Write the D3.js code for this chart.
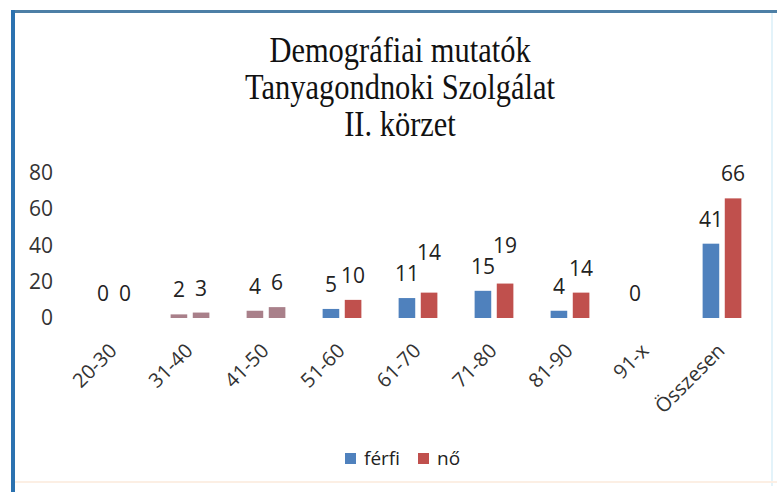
<!DOCTYPE html>
<html>
<head>
<meta charset="utf-8">
<script src="https://cdn.jsdelivr.net/npm/d3@7"></script>
<style>
  body { margin: 0; background: #fff; }
  svg { display: block; }
</style>
</head>
<body>
<script>
// Data
const categories = ["20-30", "31-40", "41-50", "51-60", "61-70", "71-80", "81-90", "91-x", "Összesen"];
const ferfi = [0, 2, 4, 5, 11, 15, 4, 0, 41];
const no = [0, 3, 6, 10, 14, 19, 14, null, 66];
const seriesNames = ["férfi", "nő"];
const yTicks = [0, 20, 40, 60, 80];
const titleLines = ["Demográfiai mutatók", "Tanyagondnoki Szolgálat", "II. körzet"];

// colours
const colors = { "férfi": "#4f81bd", "nő": "#c0504d" };
const fadedCats = ["31-40", "41-50"]; // these bars look washed out in the original
const fadedColor = "#a9808a";

const width = 777;
const height = 492;

const svg = d3.select("body").append("svg").attr("width", width).attr("height", height);

// frame (left and top edges of the chart box)
svg.append("line").attr("x1", 772).attr("x2", 772).attr("y1", 12).attr("y2", 486)
  .attr("stroke", "#e3f3fa").attr("stroke-width", 2);
svg.append("line").attr("x1", 14).attr("x2", 777).attr("y1", 482).attr("y2", 482)
  .attr("stroke", "#fcefe4").attr("stroke-width", 2);
svg.append("line").attr("x1", 12).attr("x2", 777).attr("y1", 11.5).attr("y2", 11.5)
  .attr("stroke", "#4d7fa6").attr("stroke-width", 3);
svg.append("line").attr("x1", 13).attr("x2", 13).attr("y1", 10).attr("y2", height)
  .attr("stroke", "#2b72b0").attr("stroke-width", 4);

// Title
svg.append("g")
  .selectAll("text")
  .data(titleLines)
  .enter()
  .append("text")
  .attr("transform", (d, i) => "translate(400," + (62 + i * 37) + ") scale(0.87,1)")
  .attr("text-anchor", "middle")
  .attr("font-family", "'Liberation Serif', 'Times New Roman', serif")
  .attr("font-size", 35)
  .attr("fill", "#111")
  .text((d) => d);

// Scales
const x0 = d3.scaleBand().domain(categories).range([76, 760]).paddingInner(0.49).paddingOuter(0.245);
const x1 = d3.scaleBand().domain(seriesNames).range([0, x0.bandwidth()]).paddingInner(0.25);
const y = d3.scaleLinear().domain([0, 80]).range([318, 173]);

// Y axis (labels only)
const yAxis = d3.axisLeft(y).tickValues(yTicks).tickSize(0).tickPadding(0);
const yg = svg.append("g").attr("transform", "translate(53,0)").call(yAxis);
yg.select(".domain").remove();
yg.selectAll("text")
  .attr("font-family", "'Open Sans', sans-serif")
  .attr("font-size", 21)
  .attr("fill", "#333");

// X axis labels
const xg = svg.append("g");
xg.selectAll("text")
  .data(categories)
  .enter()
  .append("text")
  .attr("transform", (d) => "translate(" + (x0(d) + x0.bandwidth() / 2 + 4) + ",352) rotate(-45)")
  .attr("text-anchor", "end")
  .attr("font-family", "'Open Sans', sans-serif")
  .attr("font-size", 20)
  .attr("fill", "#333")
  .text((d) => d);

// Rows for bars
const rows = [];
categories.forEach((c, i) => {
  const f = { cat: c, series: "férfi", value: ferfi[i] };
  f.ly = y(f.value) - 17;
  rows.push(f);
  if (no[i] !== null) {
    const n = { cat: c, series: "nő", value: no[i] };
    n.ly = y(n.value) - 17;
    // lift the second label when two two-digit labels would collide
    if (String(f.value).length > 1 && String(n.value).length > 1) {
      n.ly = Math.min(n.ly, f.ly - 21);
    }
    rows.push(n);
  }
});

// Bars
svg.append("g")
  .selectAll("rect")
  .data(rows.filter((d) => d.value > 0))
  .enter()
  .append("rect")
  .attr("x", (d) => x0(d.cat) + x1(d.series))
  .attr("y", (d) => y(d.value))
  .attr("width", x1.bandwidth())
  .attr("height", (d) => y(0) - y(d.value))
  .attr("fill", (d) => (fadedCats.includes(d.cat) ? fadedColor : colors[d.series]));

// Data labels
svg.append("g")
  .selectAll("text")
  .data(rows)
  .enter()
  .append("text")
  .attr("x", (d) => x0(d.cat) + x1(d.series) + x1.bandwidth() / 2)
  .attr("y", (d) => d.ly)
  .attr("text-anchor", "middle")
  .attr("font-family", "'Open Sans', sans-serif")
  .attr("font-size", 21)
  .attr("fill", "#222")
  .text((d) => d.value);

// Legend
const legend = svg.append("g").attr("transform", "translate(345,453)");
const items = legend.selectAll("g")
  .data(seriesNames)
  .enter()
  .append("g")
  .attr("transform", (d, i) => "translate(" + i * 73 + ",0)");
items.append("rect").attr("width", 11).attr("height", 11).attr("fill", (d) => colors[d]);
items.append("text")
  .attr("x", 19)
  .attr("y", 12)
  .attr("font-family", "'Open Sans', sans-serif")
  .attr("font-size", 19)
  .attr("fill", "#222")
  .text((d) => d);
</script>
</body>
</html>
